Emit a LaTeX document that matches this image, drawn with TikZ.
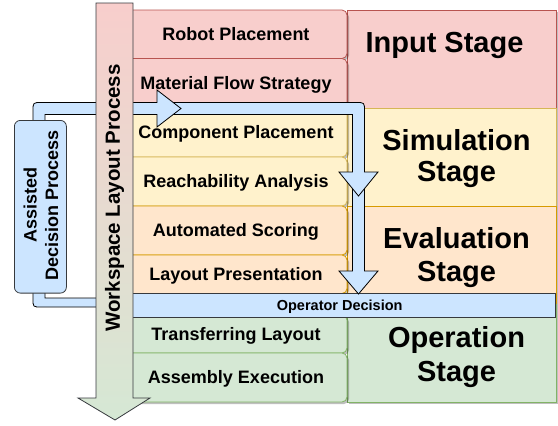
\documentclass[tikz,border=0pt]{standalone}
\usepackage{fontspec}
\setmainfont{Liberation Sans}
\usetikzlibrary{shadows}
\definecolor{redF}{HTML}{F8CECC}\definecolor{redS}{HTML}{B85450}
\definecolor{yelF}{HTML}{FFF2CC}\definecolor{yelS}{HTML}{D6B656}
\definecolor{oraF}{HTML}{FFE6CC}\definecolor{oraS}{HTML}{D79B00}
\definecolor{grnF}{HTML}{D5E8D4}\definecolor{grnS}{HTML}{82B366}
\definecolor{bluF}{HTML}{CCE5FF}\definecolor{bluS}{HTML}{36393D}
\begin{document}
\begin{tikzpicture}[x=1pt,y=-1pt,
  shad/.style={drop shadow={shadow xshift=2pt,shadow yshift=-2pt,opacity=0.25,fill=black}},
  stagebox/.style={draw=#1S,fill=#1F,line width=0.8pt,shad,anchor=north west,
    minimum width=209pt,minimum height=98pt,inner sep=0pt},
  taskbox/.style={draw=#1S,fill=#1F,line width=0.8pt,rounded corners=5pt,shad,
    minimum width=222pt,inner sep=0pt,text height=12.9pt,text depth=0pt,
    font=\fontsize{18}{20}\selectfont\bfseries},
  stagetxt/.style={anchor=base,inner sep=0pt,font=\fontsize{29}{32}\selectfont\bfseries},
  flow/.style={draw=black,fill=bluF,line width=0.8pt,line join=miter},
]
\useasboundingbox (0,0) rectangle (558,426);
% stage column
\node[stagebox=red] (input) at (347,10) {};
\node[stagebox=yel] (sim) at (347,108) {};
\node[stagebox=ora] (eval) at (347,206) {};
\node[stagebox=grn] (oper) at (347,304) {};
% task boxes
\node[taskbox=red,minimum height=48.5pt] (robot) at (236,34.25) {Robot Placement};
\node[taskbox=red,minimum height=49pt] (material) at (236,83) {Material Flow Strategy};
\node[taskbox=yel,minimum height=49.5pt] (comp) at (236,132.25) {Component Placement};
\node[taskbox=yel,minimum height=49pt] (reach) at (236,181.5) {Reachability Analysis};
\node[taskbox=ora,minimum height=49pt] (score) at (236,230.5) {Automated Scoring};
\node[taskbox=ora,minimum height=38.5pt] (present) at (236,274.25) {Layout Presentation};
\node[taskbox=grn,minimum height=38pt] (transfer) at (236,334) {Transferring Layout};
\node[taskbox=grn,minimum height=49pt] (assembly) at (236,377.5) {Assembly Execution};
% operator decision bar
\node[draw=bluS,fill=bluF,line width=0.8pt,anchor=north west,minimum width=445pt,
  minimum height=24pt,inner sep=0pt] (opdec) at (110,292.7) {};
\node[anchor=base,inner sep=0pt,font=\fontsize{14.5}{16}\selectfont\bfseries] (opdectxt)
  at (339.7,310) {Operator Decision};
% blue flow arrows
\draw[flow] (352.5,180) -- (352.5,271) -- (339,271) -- (358.5,294) -- (378,271)
  -- (364.5,271) -- (364.5,180) -- cycle;
\draw[flow] (163,102.5) -- (356,102.5) .. controls (364.5,102.5) .. (364.5,111)
  -- (364.5,172) -- (378,172) -- (358.5,196) -- (339,172) -- (352.5,172)
  -- (352.5,114.5) -- (163,114.5) -- cycle;
\draw[flow] (33,125) -- (33,111) .. controls (33,102.5) .. (41.5,102.5) -- (157,102.5)
  -- (157,90) -- (181,108.5) -- (157,127) -- (157,114.5) -- (45,114.5) -- (45,125) -- cycle;
\draw[flow] (33,285) -- (33,299) .. controls (33,307) .. (41,307) -- (110,307)
  -- (110,298) -- (45,298) -- (45,285) -- cycle;
% assisted decision process
\node[draw=bluS,fill=bluF,line width=0.8pt,rounded corners=6pt,anchor=north west,
  minimum width=52pt,minimum height=172.7pt,inner sep=0pt] (assist) at (14,120) {};
\node[rotate=90,align=center,inner sep=0pt,font=\fontsize{18}{21.5}\selectfont\bfseries]
  (assisttxt) at (41,205) {Assisted\\Decision Process};
% workspace layout process arrow
\draw[draw=bluS,line width=0.8pt,top color=redF,bottom color=grnF,line join=miter]
  (96,3) -- (133,3) -- (133,398) -- (150,398) -- (115,420) -- (78,398) -- (96,398) -- cycle;
\node[rotate=90,inner sep=0pt,font=\fontsize{20.5}{24}\selectfont\bfseries] (wlp)
  at (114.5,198) {Workspace Layout Process};
% stage texts
\node[stagetxt] (inputtxt) at (444.5,52.3) {Input Stage};
\node[stagetxt] (simtxt1) at (456.5,150) {Simulation};
\node[stagetxt] (simtxt2) at (456.5,181) {Stage};
\node[stagetxt] (evaltxt1) at (456.5,248) {Evaluation};
\node[stagetxt] (evaltxt2) at (456.5,281.5) {Stage};
\node[stagetxt] (opertxt1) at (456.5,347) {Operation};
\node[stagetxt] (opertxt2) at (456.5,381.5) {Stage};
\end{tikzpicture}
\end{document}
